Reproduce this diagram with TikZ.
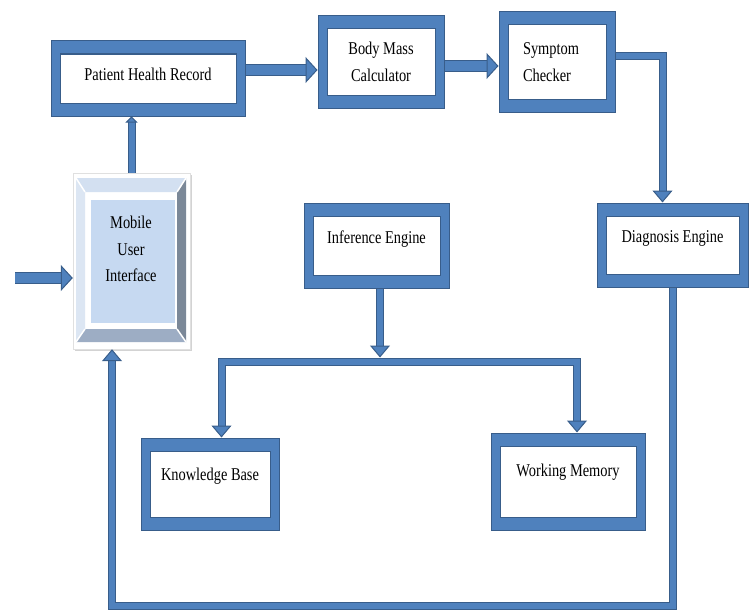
\documentclass[tikz,border=0pt]{standalone}
\usepackage{fontspec}
\setmainfont{Liberation Serif}
\usepackage{graphicx}
\usetikzlibrary{arrows.meta,calc,shadows}
\definecolor{b}{HTML}{4F81BD}
\definecolor{B}{HTML}{385D8A}
\definecolor{face}{HTML}{C6D9F1}
\definecolor{bevtop}{HTML}{D3E0F1}
\definecolor{bevleft}{HTML}{DCE6F3}
\definecolor{bevright}{HTML}{7B8898}
\definecolor{bevbot}{HTML}{9DADC4}
\def\tall#1{\scalebox{1}[1.25]{#1}}

\begin{document}
\begin{tikzpicture}[x=1pt,y=-1pt,font=\fontsize{14.4}{26.5}\selectfont,
  >={Triangle[width=20pt,length=12pt,line width=1pt,fill=b]},
  box/.style 2 args={draw=B,line width=1pt,fill=b,inner sep=0pt,
    minimum width=#1,minimum height=#2,
    path picture={\draw[B,fill=white]
      ([shift={(9pt,-13pt)}]path picture bounding box.north west) rectangle
      ([shift={(-9pt,13pt)}]path picture bounding box.south east);}},
  high/.style={text height=12pt,text depth=#1},
  pipe/.style={draw=B,line width=1pt,double=b,double distance=6pt},
  widepipe/.style={pipe,double distance=10pt,
    >={Triangle[width=26pt,length=12pt,line width=1pt,fill=b]}}]
  \useasboundingbox (0,0) rectangle (751,610);
  \node[box={194pt}{75pt},high=8pt] (phr) at (148,78.5) {\tall{Patient Health Record}};
  \node[box={126pt}{92pt},align=center] (bmc) at (381,62) {\tall{Body Mass}\\\tall{Calculator}};
  \node[box={116pt}{100pt},align=left,text width=68pt] (sc) at (557,62) {\tall{Symptom}\\\tall{Checker}};
  \node[box={151pt}{84pt},high=17pt] (de) at (672.5,245) {\tall{Diagnosis Engine}};
  \node[box={145pt}{85pt},high=16pt] (ie) at (376.5,245.5) {\tall{Inference Engine}};
  \node[box={138pt}{92pt},high=20pt] (kb) at (210,484) {\tall{Knowledge Base}};
  \node[box={154pt}{97pt},high=23pt] (wm) at (568,481.5) {\tall{Working Memory}};
  \node[draw=black!12,fill=white,minimum width=117pt,minimum height=176pt,
    drop shadow={shadow xshift=2pt,shadow yshift=-2pt,opacity=.35}] (ui) at (131.5,261) {};
  \fill[bevtop] (76,178) -- (186,178) -- (177,192) -- (85,192) -- cycle;
  \fill[bevright] (186,178) -- (186,342) -- (177,329) -- (177,192) -- cycle;
  \fill[bevbot] (76,342) -- (186,342) -- (177,329) -- (85,329) -- cycle;
  \fill[bevleft] (76,178) -- (85,192) -- (85,329) -- (76,342) -- cycle;
  \draw[white,line width=1.5pt] (76,178) -- (85,192) (186,178) -- (177,192)
    (186,342) -- (177,329) (76,342) -- (85,329);
  \fill[face] (91,200) rectangle (175,323);
  \node[align=center] (uilabel) at (131,249) {\tall{Mobile}\\\tall{User}\\\tall{Interface}};
  \coordinate (in) at (15,278);
  \draw[widepipe,->] (in) -- (in -| ui.west);
  \draw[pipe,-{Triangle[width=12pt,length=6pt,line width=1pt,fill=b]}] (ui.north) -- (ui.north |- phr.south);
  \draw[widepipe,->] ($(phr.east)+(0,-8.5)$) -- ($(bmc.west)+(0,8)$);
  \draw[widepipe,->] ($(bmc.east)+(0,4)$) -- ($(sc.west)+(0,4)$);
  \draw[pipe,->] ($(sc.east)+(0,-6)$) -| ($(de.north)+(-10,0)$);
  \coordinate (split) at ($(ie.south)+(3.5,69)$);
  \draw[pipe,<->] ($(kb.north)+(11.5,0)$) |- ($(split)+(0,4)$) -| ($(wm.north)+(9,0)$);
  \draw[pipe,->] (ie.south -| split) -- (split);
  \coordinate (loop) at (112,606);
  \draw[pipe,->] (de.south) |- (loop) -- (loop |- ui.south);
\end{tikzpicture}
\end{document}
